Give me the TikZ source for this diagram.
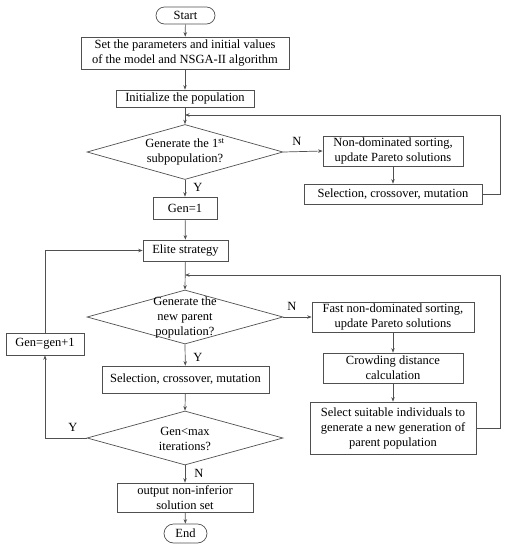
\documentclass[tikz,border=0pt]{standalone}
\usepackage{fontspec}
\setmainfont{Liberation Serif}
\usetikzlibrary{shapes.geometric,shapes.misc,arrows.meta,calc}
\definecolor{ln}{HTML}{505050}
\begin{document}
\begin{tikzpicture}[x=1pt,y=-1pt,
  every node/.style={font=\fontsize{12.5}{15}\selectfont, text=black},
  box/.style={draw=ln, line width=0.7pt, rectangle, inner sep=0pt, align=center},
  term/.style={draw=ln, line width=0.7pt, rounded rectangle, inner sep=0pt},
  dec/.style={draw=ln, line width=0.7pt, diamond, inner sep=0pt},
  dtext/.style={align=center, inner sep=0pt},
  arr/.style={draw=ln, line width=0.7pt, -{Stealth[length=4.5pt,width=3.5pt]}},
  lab/.style={inner sep=1pt}]
\useasboundingbox (0,0) rectangle (515,550);
\node[term, minimum width=59pt, minimum height=17pt] (start) at (185.5,15.5) {Start};
\node[box, minimum width=208pt, minimum height=32pt] (b1) at (185,53) {Set the parameters and initial values\\of the model and NSGA-II algorithm};
\node[box, minimum width=138pt, minimum height=17pt] (b2) at (185,98.5) {Initialize the population};
\node[dec, minimum width=196pt, minimum height=55pt] (d1) at (185,152) {};
\node[dtext] (d1t) at (d1.center) {Generate the 1\textsuperscript{st}\\subpopulation?};
\node[box, minimum width=140pt, minimum height=30pt] (nd) at (393,151) {Non-dominated sorting,\\update Pareto solutions};
\node[box, minimum width=178pt, minimum height=20pt] (s1) at (393,194) {Selection, crossover, mutation};
\node[box, minimum width=64pt, minimum height=22pt] (g1) at (185,208) {Gen=1};
\node[box, minimum width=85pt, minimum height=21pt] (el) at (185.5,250.5) {Elite strategy};
\node[dec, minimum width=196pt, minimum height=54pt] (d2) at (185,317) {};
\node[dtext] (d2t) at (d2.center) {Generate the\\new parent\\population?};
\node[box, minimum width=162pt, minimum height=30pt] (fs) at (393,317) {Fast non-dominated sorting,\\update Pareto solutions};
\node[box, minimum width=140pt, minimum height=30pt] (cd) at (393,368) {Crowding distance\\calculation};
\node[box, minimum width=166pt, minimum height=52pt] (ss) at (393,428) {Select suitable individuals to\\generate a new generation of\\parent population};
\node[box, minimum width=78pt, minimum height=22pt] (gi) at (45,344) {Gen=gen+1};
\node[box, minimum width=167pt, minimum height=27pt] (s2) at (185.5,379.5) {Selection, crossover, mutation};
\node[dec, minimum width=196pt, minimum height=54pt] (d3) at (185,438) {};
\node[dtext] (d3t) at (185,439) {Gen<max\\iterations?};
\node[box, minimum width=136pt, minimum height=29pt] (out) at (185,497.5) {output non-inferior\\solution set};
\node[term, minimum width=43pt, minimum height=19pt] (end) at (185.5,533.5) {End};
\coordinate (j1) at (185,115);
\coordinate (j2) at (185,275);
\coordinate (r1) at (500,194);
\coordinate (r2) at (500,428);
% connectors
\draw[arr] (start) -- (b1);
\draw[arr] (b1) -- (b2);
\draw[arr] (b2) -- (d1.north);
\draw[arr] (d1.east) -- (nd.west);
\node[lab] (n1) at (297,141) {N};
\draw[arr] (nd) -- (s1);
\draw[arr] (s1.east) -- (r1) |- (j1);
\draw[arr] (d1.south) -- (g1);
\node[lab] (y1) at (198,187) {Y};
\draw[arr] (g1) -- (el);
\draw[arr] (el) -- (d2.north);
\draw[arr] (d2.east) -- (fs.west);
\node[lab] (n2) at (292,306) {N};
\draw[arr] (fs) -- (cd);
\draw[arr] (cd) -- (ss);
\draw[arr] (ss.east) -- (r2) |- (j2);
\draw[arr] (d2.south) -- (s2);
\node[lab] (y2) at (198,357) {Y};
\draw[arr] (s2) -- (d3.north);
\draw[arr] (d3.west) -| (gi.south);
\node[lab] (y3) at (73,427) {Y};
\draw[arr] (gi.north) |- (el.west);
\draw[arr] (d3.south) -- (out);
\node[lab] (n3) at (199,473) {N};
\draw[arr] (out) -- (end);
\end{tikzpicture}
\end{document}
